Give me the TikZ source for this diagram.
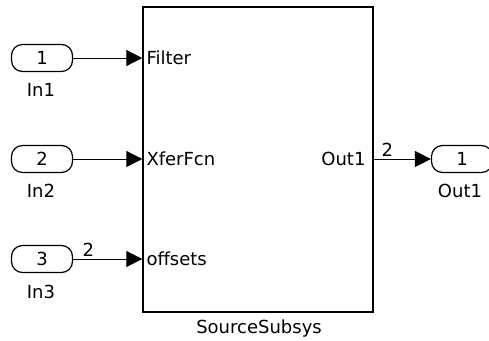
\documentclass[tikz,border=0pt]{standalone}
\usepackage{fontspec}
\setmainfont{DejaVu Sans}
\usetikzlibrary{arrows.meta}
\begin{document}
\begin{tikzpicture}[x=1pt,y=-1pt,
    font=\fontsize{18}{21}\selectfont,
    port/.style={draw, line width=1.2pt, rounded corners=11pt, minimum width=61pt, minimum height=27pt, inner sep=0pt},
    sig/.style={line width=1pt, -{Triangle[length=16pt,width=16pt]}}]
    \useasboundingbox (0,0) rectangle (489,340);
    % subsystem block
    \node[draw, line width=1.4pt, minimum width=230pt, minimum height=305pt, inner sep=0pt] (sub) at (258,159.5) {};
    \node (subname) at (259,329) {SourceSubsys};
    % inports
    \node[port] (in1) at (42,58) {1};
    \node (in1name) at (41,90) {In1};
    \node[port] (in2) at (42,159) {2};
    \node (in2name) at (41,191) {In2};
    \node[port] (in3) at (42,259) {3};
    \node (in3name) at (41,292) {In3};
    % outport
    \node[port] (out1) at (462,159) {1};
    \node (out1name) at (460,191) {Out1};
    % port labels of the block
    \node[anchor=west, inner sep=4pt] (pfilter) at (sub.west |- in1) {Filter};
    \node[anchor=west, inner sep=4pt] (pxfer) at (sub.west |- in2) {XferFcn};
    \node[anchor=west, inner sep=4pt] (poff) at (sub.west |- in3) {offsets};
    \node[anchor=east, inner sep=4pt, xshift=-4pt] (pout) at (sub.east |- out1) {Out1};
    % signals
    \draw[sig] (in1) -- (in1 -| sub.west);
    \draw[sig] (in2) -- (in2 -| sub.west);
    \draw[sig] (in3) -- node[pos=0.22, above, inner sep=2pt] (w3) {2} (in3 -| sub.west);
    \draw[sig] (sub.east |- out1) -- node[pos=0.24, above, inner sep=2pt] (wout) {2} (out1);
\end{tikzpicture}
\end{document}
